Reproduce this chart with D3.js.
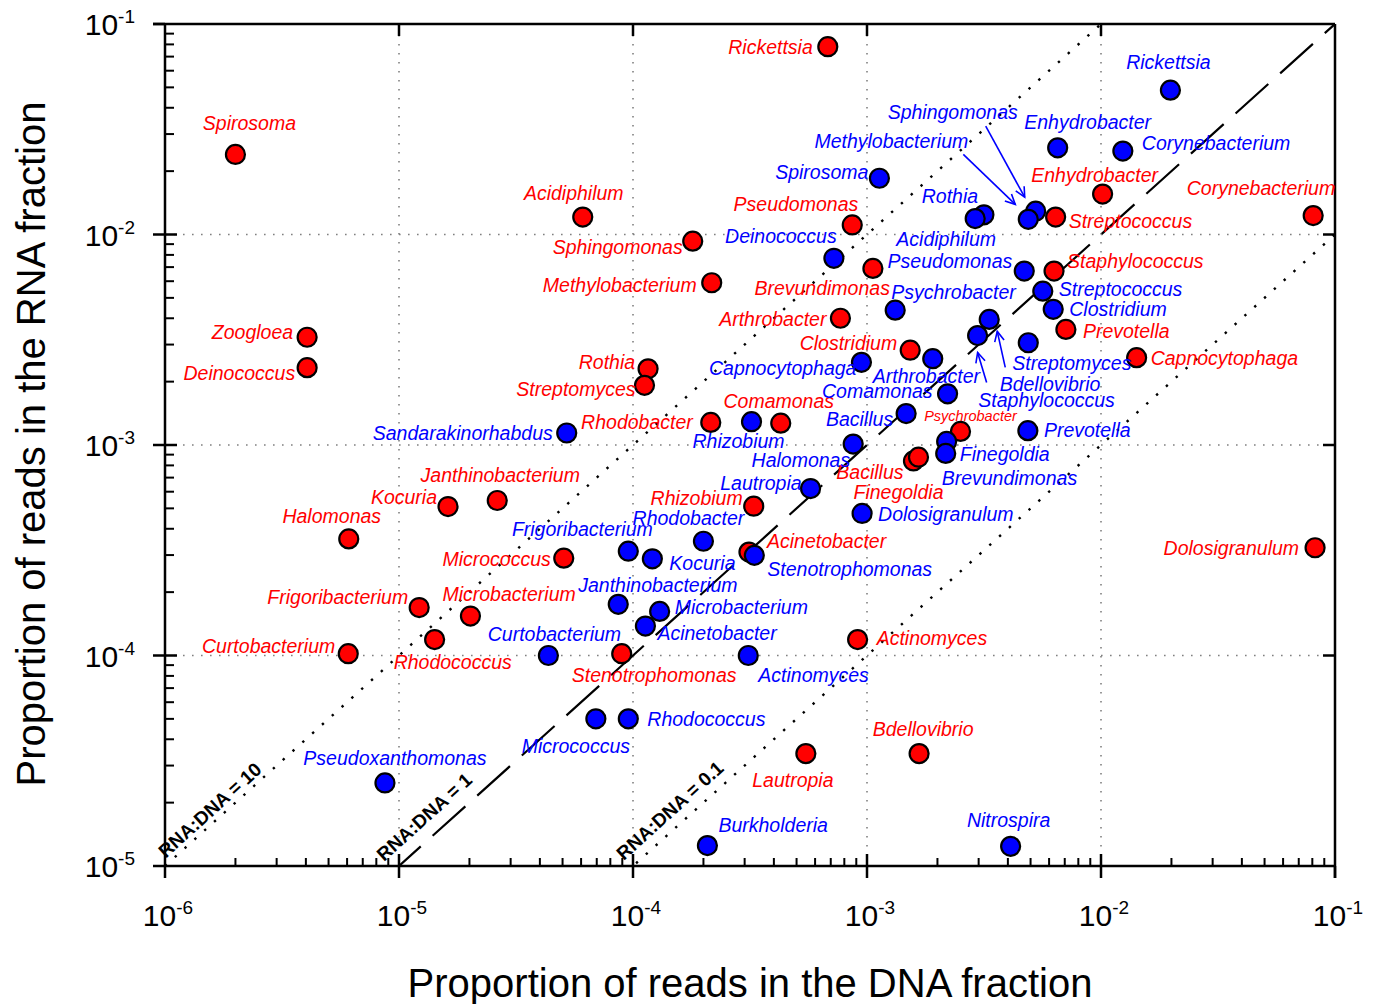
<!DOCTYPE html>
<html>
<head>
<meta charset="utf-8">
<script src="https://cdn.jsdelivr.net/npm/d3@7/dist/d3.min.js"></script>
<style>
  body { margin: 0; background: #fff; }
  svg { display: block; font-family: 'Liberation Sans', Arial, sans-serif; }
</style>
</head>
<body>
<div id="chart"></div>
<script>
// values: proportion of reads in DNA (x) vs RNA (y)
const redNames = ['Rickettsia', 'Spirosoma', 'Acidiphilum', 'Sphingomonas', 'Methylobacterium', 'Pseudomonas',
  'Brevundimonas', 'Arthrobacter', 'Clostridium', 'Zoogloea', 'Deinococcus', 'Rothia', 'Streptomyces', 'Rhodobacter',
  'Comamonas', 'Psychrobacter', 'Bacillus', 'Finegoldia', 'Janthinobacterium', 'Kocuria', 'Halomonas', 'Rhizobium',
  'Micrococcus', 'Acinetobacter', 'Frigoribacterium', 'Microbacterium', 'Curtobacterium', 'Rhodococcus',
  'Stenotrophomonas', 'Actinomyces', 'Lautropia', 'Bdellovibrio', 'Enhydrobacter', 'Streptococcus',
  'Corynebacterium', 'Staphylococcus', 'Prevotella', 'Capnocytophaga', 'Dolosigranulum'];
const redDNA = [6.8e-4, 2.0e-6, 6.1e-5, 1.8e-4, 2.17e-4, 8.65e-4,
  1.06e-3, 7.7e-4, 1.53e-3, 4.05e-6, 4.05e-6, 1.16e-4, 1.12e-4, 2.15e-4,
  4.28e-4, 2.51e-3, 1.58e-3, 1.66e-3, 2.63e-5, 1.62e-5, 6.1e-6, 3.28e-4,
  5.06e-5, 3.13e-4, 1.22e-5, 2.02e-5, 6.07e-6, 1.42e-5,
  8.95e-5, 9.12e-4, 5.48e-4, 1.67e-3, 1.016e-2, 6.4e-3,
  8.07e-2, 6.3e-3, 7.08e-3, 1.42e-2, 8.22e-2];
const redRNA = [7.8e-2, 2.4e-2, 1.21e-2, 9.3e-3, 5.9e-3, 1.11e-2,
  6.9e-3, 4.0e-3, 2.82e-3, 3.25e-3, 2.33e-3, 2.3e-3, 1.92e-3, 1.28e-3,
  1.27e-3, 1.16e-3, 8.4e-4, 8.75e-4, 5.45e-4, 5.1e-4, 3.58e-4, 5.12e-4,
  2.9e-4, 3.1e-4, 1.69e-4, 1.54e-4, 1.02e-4, 1.19e-4,
  1.02e-4, 1.19e-4, 3.42e-5, 3.42e-5, 1.556e-2, 1.21e-2,
  1.23e-2, 6.7e-3, 3.54e-3, 2.6e-3, 3.25e-4];

const blueNames = ['Rickettsia', 'Enhydrobacter', 'Corynebacterium', 'Spirosoma', 'Sphingomonas', 'Methylobacterium',
  'Rothia', 'Acidiphilum', 'Deinococcus', 'Pseudomonas', 'Psychrobacter', 'Streptococcus', 'Clostridium',
  'Streptomyces', 'Bdellovibrio', 'Staphylococcus', 'Arthrobacter', 'Capnocytophaga', 'Comamonas', 'Bacillus',
  'Sandarakinorhabdus', 'Prevotella', 'Rhizobium', 'Halomonas', 'Brevundimonas', 'Finegoldia', 'Lautropia',
  'Dolosigranulum', 'Rhodobacter', 'Frigoribacterium', 'Kocuria', 'Stenotrophomonas', 'Janthinobacterium',
  'Microbacterium', 'Acinetobacter', 'Curtobacterium', 'Actinomyces', 'Micrococcus', 'Rhodococcus',
  'Pseudoxanthomonas', 'Burkholderia', 'Nitrospira'];
const blueDNA = [1.98e-2, 6.53e-3, 1.24e-2, 1.13e-3, 5.26e-3, 4.89e-3,
  3.16e-3, 2.9e-3, 7.22e-4, 4.7e-3, 1.32e-3, 5.64e-3, 6.25e-3,
  3.33e-3, 2.97e-3, 4.89e-3, 1.91e-3, 9.47e-4, 2.21e-3, 1.47e-3,
  5.21e-5, 4.87e-3, 3.21e-4, 8.73e-4, 2.19e-3, 2.17e-3, 5.74e-4,
  9.53e-4, 2.0e-4, 9.55e-5, 1.21e-4, 3.3e-4, 8.65e-5,
  1.3e-4, 1.13e-4, 4.35e-5, 3.11e-4, 6.94e-5, 9.55e-5,
  8.71e-6, 2.08e-4, 4.11e-3];
const blueRNA = [4.85e-2, 2.58e-2, 2.49e-2, 1.85e-2, 1.29e-2, 1.18e-2,
  1.24e-2, 1.19e-2, 7.71e-3, 6.7e-3, 4.37e-3, 5.38e-3, 4.41e-3,
  3.95e-3, 3.31e-3, 3.06e-3, 2.57e-3, 2.47e-3, 1.75e-3, 1.41e-3,
  1.14e-3, 1.17e-3, 1.29e-3, 1.01e-3, 1.04e-3, 9.12e-4, 6.21e-4,
  4.73e-4, 3.49e-4, 3.13e-4, 2.88e-4, 2.99e-4, 1.75e-4,
  1.62e-4, 1.38e-4, 1.0e-4, 1.0e-4, 5.0e-5, 5.0e-5,
  2.48e-5, 1.25e-5, 1.24e-5];

const xDecades = [1e-6, 1e-5, 1e-4, 1e-3, 1e-2, 1e-1];
const yDecades = [1e-5, 1e-4, 1e-3, 1e-2, 1e-1];
const ratioLines = [10, 1, 0.1];
const ratioLabels = ['RNA:DNA = 10', 'RNA:DNA = 1', 'RNA:DNA = 0.1'];

// label placement (pixel offset from the point, text anchor)
const redLabelPos = [[-15, 7, 'end'], [14, -24, 'middle'], [-9, -17, 'middle'], [-10, 13, 'end'], [-15, 9, 'end'],
  [6, -14, 'end'], [17, 27, 'end'], [-14, 8, 'end'], [-13, 0, 'end'], [-14, 2, 'end'], [-12, 12, 'end'],
  [-13, 0, 'end'], [-9, 11, 'end'], [-18, 7, 'end'], [-2, -15, 'middle'], [10, -10, 'middle'], [-10, 18, 'end'],
  [-20, 42, 'middle'], [3, -18, 'middle'], [-11, -3, 'end'], [-17, -16, 'middle'], [-11, -1, 'end'],
  [-13, 8, 'end'], [18, -4, 'start'], [-11, -4, 'end'], [-28, -15, 'start'], [-13, -1, 'end'], [-41, 29, 'start'],
  [-50, 28, 'start'], [19, 5, 'start'], [-13, 33, 'middle'], [4, -18, 'middle'], [-8, -12, 'middle'],
  [13, 11, 'start'], [22, -21, 'end'], [13, -3, 'start'], [17, 9, 'start'], [14, 7, 'start'], [-16, 7, 'end']];
const blueLabelPos = [[-2, -21, 'middle'], [30, -19, 'middle'], [19, -1, 'start'], [-11, 1, 'end'],
  [-83, -92, 'middle'], [-60, -71, 'end'], [-34, -12, 'middle'], [-29, 27, 'middle'], [-53, -15, 'middle'],
  [-12, -3, 'end'], [-4, -11, 'start'], [16, 5, 'start'], [16, 7, 'start'], [23, 51, 'start'], [22, 55, 'start'],
  [-50, 64, 'start'], [-60, 24, 'start'], [-5, 13, 'end'], [-15, 4, 'end'], [-13, 12, 'end'], [-14, 7, 'end'],
  [16, 6, 'start'], [-13, 26, 'middle'], [-3, 23, 'end'], [-5, 44, 'start'], [14, 8, 'start'], [-9, 1, 'end'],
  [16, 8, 'start'], [-15, -16, 'middle'], [-46, -15, 'middle'], [17, 11, 'start'], [13, 21, 'start'],
  [-40, -12, 'start'], [15, 3, 'start'], [12, 14, 'start'], [6, -15, 'middle'], [10, 26, 'start'],
  [-20, 34, 'middle'], [19, 7, 'start'], [10, -18, 'middle'], [11, -14, 'start'], [-2, -19, 'middle']];
// callout arrows for crowded blue points: [start offset, tip offset]
const blueArrows = {
  Sphingomonas: [[-50, -85], [-11, -14]],
  Methylobacterium: [[-65, -65], [-13, -15]],
  Streptomyces: [[16, 48], [8, 12]],
  Bdellovibrio: [[9, 47], [0, 17]]
};

const W = 1379, H = 1004;
const svg = d3.select('#chart').append('svg').attr('width', W).attr('height', H);
const x = d3.scaleLog().domain([1e-6, 1e-1]).range([165, 1335]);
const y = d3.scaleLog().domain([1e-5, 1e-1]).range([866, 24]);
const [x0, x1] = x.range(), [y0, y1] = y.range();

const minors = dec => dec.slice(0, -1).flatMap(d => d3.range(2, 10).map(k => k * d));

// dotted grid at inner decades
const grid = svg.append('g').attr('stroke', '#808080').attr('stroke-width', 1.6).attr('stroke-dasharray', '1.6,7.4');
grid.selectAll('.gx').data(xDecades.slice(1, -1)).join('line')
  .attr('x1', d => x(d)).attr('x2', d => x(d)).attr('y1', y1 + 2).attr('y2', y0);
grid.selectAll('.gy').data(yDecades.slice(1, -1)).join('line')
  .attr('y1', d => y(d)).attr('y2', d => y(d)).attr('x1', x0).attr('x2', x1 - 12);

// RNA:DNA reference lines
svg.append('clipPath').attr('id', 'plot').append('rect')
  .attr('x', x0).attr('y', y1).attr('width', x1 - x0).attr('height', y0 - y1);
const ratioG = svg.append('g').attr('clip-path', 'url(#plot)');
ratioLines.forEach(r => {
  ratioG.append('line')
    .attr('x1', x(1e-6)).attr('y1', y(1e-6 * r)).attr('x2', x(1e-1)).attr('y2', y(1e-1 * r))
    .attr('stroke', '#000')
    .attr('stroke-width', r === 1 ? 2.2 : 2.4)
    .attr('stroke-dasharray', r === 1 ? '44,16' : '2.4,10.8');
});
const angle = Math.atan2(y(1e-5) - y(1e-4), x(1e-4) - x(1e-5)) * 180 / Math.PI;
const ratioStart = [1.04e-6, 0.94e-5, 0.975e-4];
const ratioOffset = [5, 13, 10];
ratioLines.forEach((r, i) => {
  const px = x(ratioStart[i]), py = y(ratioStart[i] * r);
  const a = angle * Math.PI / 180;
  const ox = -Math.sin(a) * ratioOffset[i], oy = -Math.cos(a) * ratioOffset[i];
  svg.append('text')
    .attr('transform', `translate(${px + ox},${py + oy}) rotate(${-angle})`)
    .attr('font-size', 19).attr('font-weight', 'bold').attr('fill', '#000')
    .text(ratioLabels[i]);
});

// axes frame and ticks
const axis = svg.append('g').attr('stroke', '#000').attr('stroke-width', 2.5).attr('fill', 'none');
axis.append('line').attr('x1', x0).attr('x2', x1).attr('y1', y0).attr('y2', y0);
axis.append('line').attr('x1', x0 - 12).attr('x2', x1).attr('y1', y1).attr('y2', y1);
axis.append('line').attr('x1', x0).attr('x2', x0).attr('y1', y1).attr('y2', y0);
axis.append('line').attr('x1', x1).attr('x2', x1).attr('y1', y1).attr('y2', y0 + 12);

axis.selectAll('.xM').data(xDecades).join('line')
  .attr('x1', d => x(d)).attr('x2', d => x(d)).attr('y1', (d, i) => i === 0 || i === 5 ? y0 : y0 - 12).attr('y2', y0 + 12);
axis.selectAll('.xm').data(minors(xDecades)).join('line').attr('stroke-width', 2)
  .attr('x1', d => x(d)).attr('x2', d => x(d)).attr('y1', y0 - 8).attr('y2', y0);
axis.selectAll('.xT').data(xDecades.slice(1, -1)).join('line')
  .attr('x1', d => x(d)).attr('x2', d => x(d)).attr('y1', y1).attr('y2', y1 + 12);
axis.selectAll('.yM').data(yDecades).join('line')
  .attr('y1', d => y(d)).attr('y2', d => y(d)).attr('x1', x0 - 12).attr('x2', (d, i) => i === 0 || i === 4 ? x0 : x0 + 12);
axis.selectAll('.ym').data(minors(yDecades)).join('line').attr('stroke-width', 2)
  .attr('y1', d => y(d)).attr('y2', d => y(d)).attr('x1', x0).attr('x2', x0 + 9);
axis.selectAll('.yR').data(yDecades.slice(1, -1)).join('line')
  .attr('y1', d => y(d)).attr('y2', d => y(d)).attr('x1', x1 - 12).attr('x2', x1);

// tick labels 10^n
const expLabel = (sel) => {
  sel.append('tspan').text('10');
  sel.append('tspan').attr('font-size', 19).attr('dy', -12).text(d => Math.round(Math.log10(d)));
};
svg.append('g').selectAll('text').data(xDecades).join('text')
  .attr('x', d => x(d) + 3).attr('y', y0 + 60).attr('text-anchor', 'middle').attr('font-size', 30)
  .call(expLabel);
svg.append('g').selectAll('text').data(yDecades).join('text')
  .attr('x', x0 - 30).attr('y', d => y(d) + 11).attr('text-anchor', 'end').attr('font-size', 30)
  .call(expLabel);

svg.append('text').attr('x', (x0 + x1) / 2).attr('y', 997).attr('text-anchor', 'middle')
  .attr('font-size', 40).text('Proportion of reads in the DNA fraction');
svg.append('text').attr('transform', `translate(45,${(y0 + y1) / 2 - 1}) rotate(-90)`).attr('text-anchor', 'middle')
  .attr('font-size', 40).text('Proportion of reads in the RNA fraction');

// points and labels
function drawGroup(names, dna, rna, pos, color) {
  const pts = names.map((n, i) => ({ name: n, dna: dna[i], rna: rna[i], pos: pos[i] }));
  svg.append('g').selectAll('circle').data(pts).join('circle')
    .attr('cx', d => x(d.dna)).attr('cy', d => y(d.rna)).attr('r', 9.5)
    .attr('fill', color).attr('stroke', '#000').attr('stroke-width', 2.2);
  return pts;
}
function drawLabels(pts, color) {
  svg.append('g').selectAll('text').data(pts).join('text')
    .attr('x', d => x(d.dna) + d.pos[0]).attr('y', d => y(d.rna) + d.pos[1])
    .attr('text-anchor', d => d.pos[2])
    .attr('font-size', d => color === 'red' && d.name === 'Psychrobacter' ? 14.5 : 19.5)
    .attr('font-style', 'italic').attr('fill', color)
    .text(d => d.name);
}
const redPts = drawGroup(redNames, redDNA, redRNA, redLabelPos, '#ff0000');
const bluePts = drawGroup(blueNames, blueDNA, blueRNA, blueLabelPos, '#0000ff');
drawLabels(redPts, 'red');
drawLabels(bluePts, 'blue');

// callout arrows
const arrowG = svg.append('g').attr('stroke', '#0000ff').attr('stroke-width', 1.6).attr('fill', 'none');
bluePts.filter(d => blueArrows[d.name]).forEach(d => {
  const [s, t] = blueArrows[d.name];
  const px = x(d.dna), py = y(d.rna);
  const sx = px + s[0], sy = py + s[1], tx = px + t[0], ty = py + t[1];
  const a = Math.atan2(ty - sy, tx - sx), L = 11, spread = 0.45;
  arrowG.append('line').attr('x1', sx).attr('y1', sy).attr('x2', tx).attr('y2', ty);
  arrowG.append('polyline').attr('points', [
    [tx - L * Math.cos(a - spread), ty - L * Math.sin(a - spread)], [tx, ty],
    [tx - L * Math.cos(a + spread), ty - L * Math.sin(a + spread)]].map(p => p.join(',')).join(' '));
});
</script>
</body>
</html>
